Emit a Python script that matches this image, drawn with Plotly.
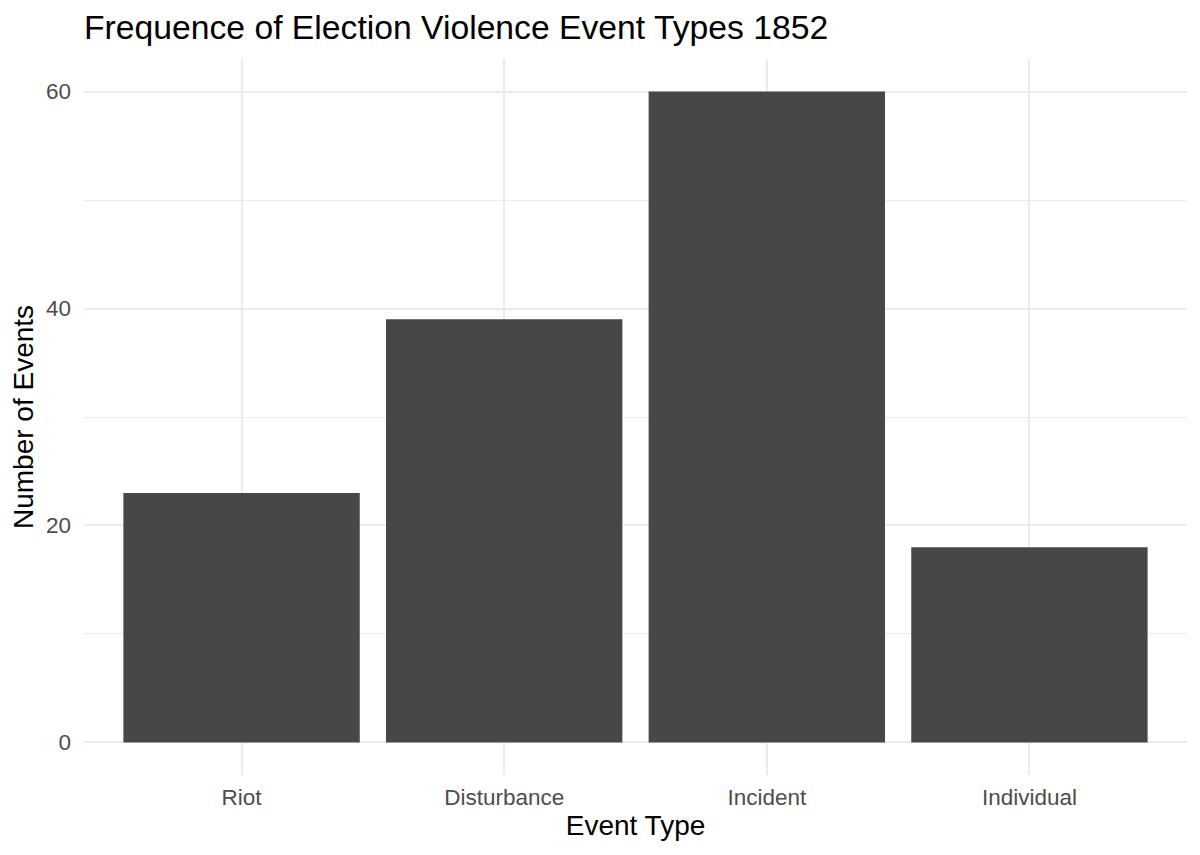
import plotly.graph_objects as go

# Event counts for 1852
event_types = ["Riot", "Disturbance", "Incident", "Individual"]
event_counts = [23, 39, 60, 18]

y_ticks = [0, 20, 40, 60]

grid_col = "#EBEBEB"
font_family = "Liberation Sans, Arial, sans-serif"

# the page puts the figure 8px in from the corner, so size it to fit
W, H = 1184, 839

fig = go.Figure(
    go.Bar(
        x=event_types,
        y=event_counts,
        width=0.9,
        marker=dict(color="#474747", line=dict(width=0)),
        hoverinfo="x+y",
    )
)

fig.update_layout(
    width=W,
    height=H,
    paper_bgcolor="white",
    plot_bgcolor="white",
    margin=dict(l=76, r=5, t=51, b=72),
    font=dict(family=font_family, color="black"),
    title=dict(
        text="Frequence of Election Violence Event Types 1852",
        font=dict(size=33.7, color="black"),
        xref="paper",
        x=0,
        xanchor="left",
        yref="container",
        y=1 - 19 / H,
        yanchor="middle",
    ),
    showlegend=False,
    bargap=0.1,
)

fig.update_xaxes(
    type="category",
    range=[-0.6, 3.6],
    showgrid=True,
    gridcolor=grid_col,
    gridwidth=2,
    zeroline=False,
    showline=False,
    ticks="",
    ticklabelstandoff=6,
    tickfont=dict(size=22.5, color="#4D4D4D"),
    title=dict(text="Event Type", font=dict(size=28, color="black"), standoff=6),
)

fig.update_yaxes(
    range=[-3, 63],
    tickvals=y_ticks,
    showgrid=True,
    gridcolor=grid_col,
    gridwidth=2,
    minor=dict(dtick=10, tick0=0, showgrid=True, gridcolor=grid_col, gridwidth=1),
    zeroline=False,
    showline=False,
    ticks="",
    ticklabelstandoff=12,
    tickfont=dict(size=22.5, color="#4D4D4D"),
    title=dict(text="Number of Events", font=dict(size=28, color="black"), standoff=6),
)

fig.write_html("out.html")
